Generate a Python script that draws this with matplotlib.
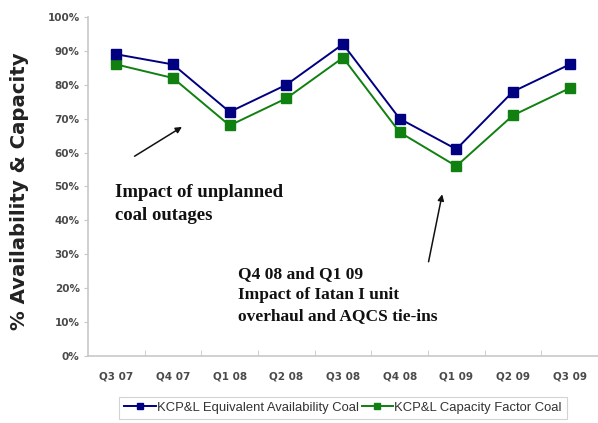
import numpy as np
from matplotlib import pyplot as plt

quarters = ["Q3 07", "Q4 07", "Q1 08", "Q2 08", "Q3 08", "Q4 08", "Q1 09", "Q2 09", "Q3 09"]
availability = [89, 86, 72, 80, 92, 70, 61, 78, 86]
capacity = [86, 82, 68, 76, 88, 66, 56, 71, 79]
y_ticks = [0, 10, 20, 30, 40, 50, 60, 70, 80, 90, 100]

note_outages = ["Impact of unplanned", "coal outages"]
note_iatan = ["Q4 08 and Q1 09", "Impact of Iatan I unit", "overhaul and AQCS tie-ins"]

W, H = 598, 423
fig = plt.figure(figsize=(W / 100, H / 100), dpi=100)
ax = fig.add_axes([88 / W, 1 - 356 / H, (W - 88) / W, (356 - 17) / H])

x = np.arange(len(quarters))
ax.plot(x, availability, color="#000080", lw=1.4, marker="s", ms=6.5,
        mec="#000080", mfc="#000080", label="KCP&L Equivalent Availability Coal", zorder=3)
ax.plot(x, capacity, color="#108010", lw=1.4, marker="s", ms=6.5,
        mec="#108010", mfc="#108010", label="KCP&L Capacity Factor Coal", zorder=2)

ax.set_xlim(-0.5, (W - 117) / 57.5)
ax.set_ylim(0, 100)
tick_font = dict(fontsize=7.5, fontweight="bold", color="#4a4a4a", family="DejaVu Sans")
ax.set_yticks(y_ticks)
ax.set_yticklabels([f"{v}%" for v in y_ticks], **tick_font)
ax.set_xticks(x)
ax.set_xticklabels(quarters, **tick_font)
ax.set_xticks(np.arange(len(quarters)) + 0.5, minor=True)
ax.tick_params(axis="x", which="major", length=0, pad=11)
ax.tick_params(axis="x", which="minor", length=4, color="#c8c8c8", direction="in")
ax.tick_params(axis="y", length=3, color="#c8c8c8", direction="out", pad=3)

for side in ("top", "right"):
    ax.spines[side].set_visible(False)
for side in ("left", "bottom"):
    ax.spines[side].set_color("#c8c8c8")
    ax.spines[side].set_linewidth(1.2)

fig.text(20 / W, 1 - 191 / H, "% Availability & Capacity", rotation=90,
         ha="center", va="center", fontsize=14.2, fontweight="bold",
         family="DejaVu Sans", color="#222222")

# arrows pointing at the dips
ax.annotate("", xy=(1.2, 68), xytext=(0.28, 58.5),
            arrowprops=dict(arrowstyle="-|>", color="#111111", lw=1.1, mutation_scale=9))
ax.annotate("", xy=(5.76, 48.5), xytext=(5.50, 27),
            arrowprops=dict(arrowstyle="-|>", color="#111111", lw=1.1, mutation_scale=9))

serif = dict(ha="left", va="baseline", fontweight="bold", family="Liberation Serif",
             color="#111111")
for i, line in enumerate(note_outages):
    fig.text(115 / W, 1 - (197 + 23 * i) / H, line, fontsize=13.5, **serif)
for i, line in enumerate(note_iatan):
    fig.text(238 / W, 1 - (278 + 21 * i) / H, line, fontsize=12.5, **serif)

leg = fig.legend(loc="center", bbox_to_anchor=(343 / W, 1 - 408 / H), ncol=2,
                 frameon=True, fancybox=False, edgecolor="#c8c8c8",
                 prop={"family": "Liberation Sans", "size": 9.4}, handlelength=2.4,
                 handletextpad=0.1, columnspacing=0.2, borderpad=0.4, markerscale=0.75)
leg.get_frame().set_linewidth(0.8)
for t in leg.get_texts():
    t.set_color("#333333")

plt.savefig("out.png", dpi=100)
